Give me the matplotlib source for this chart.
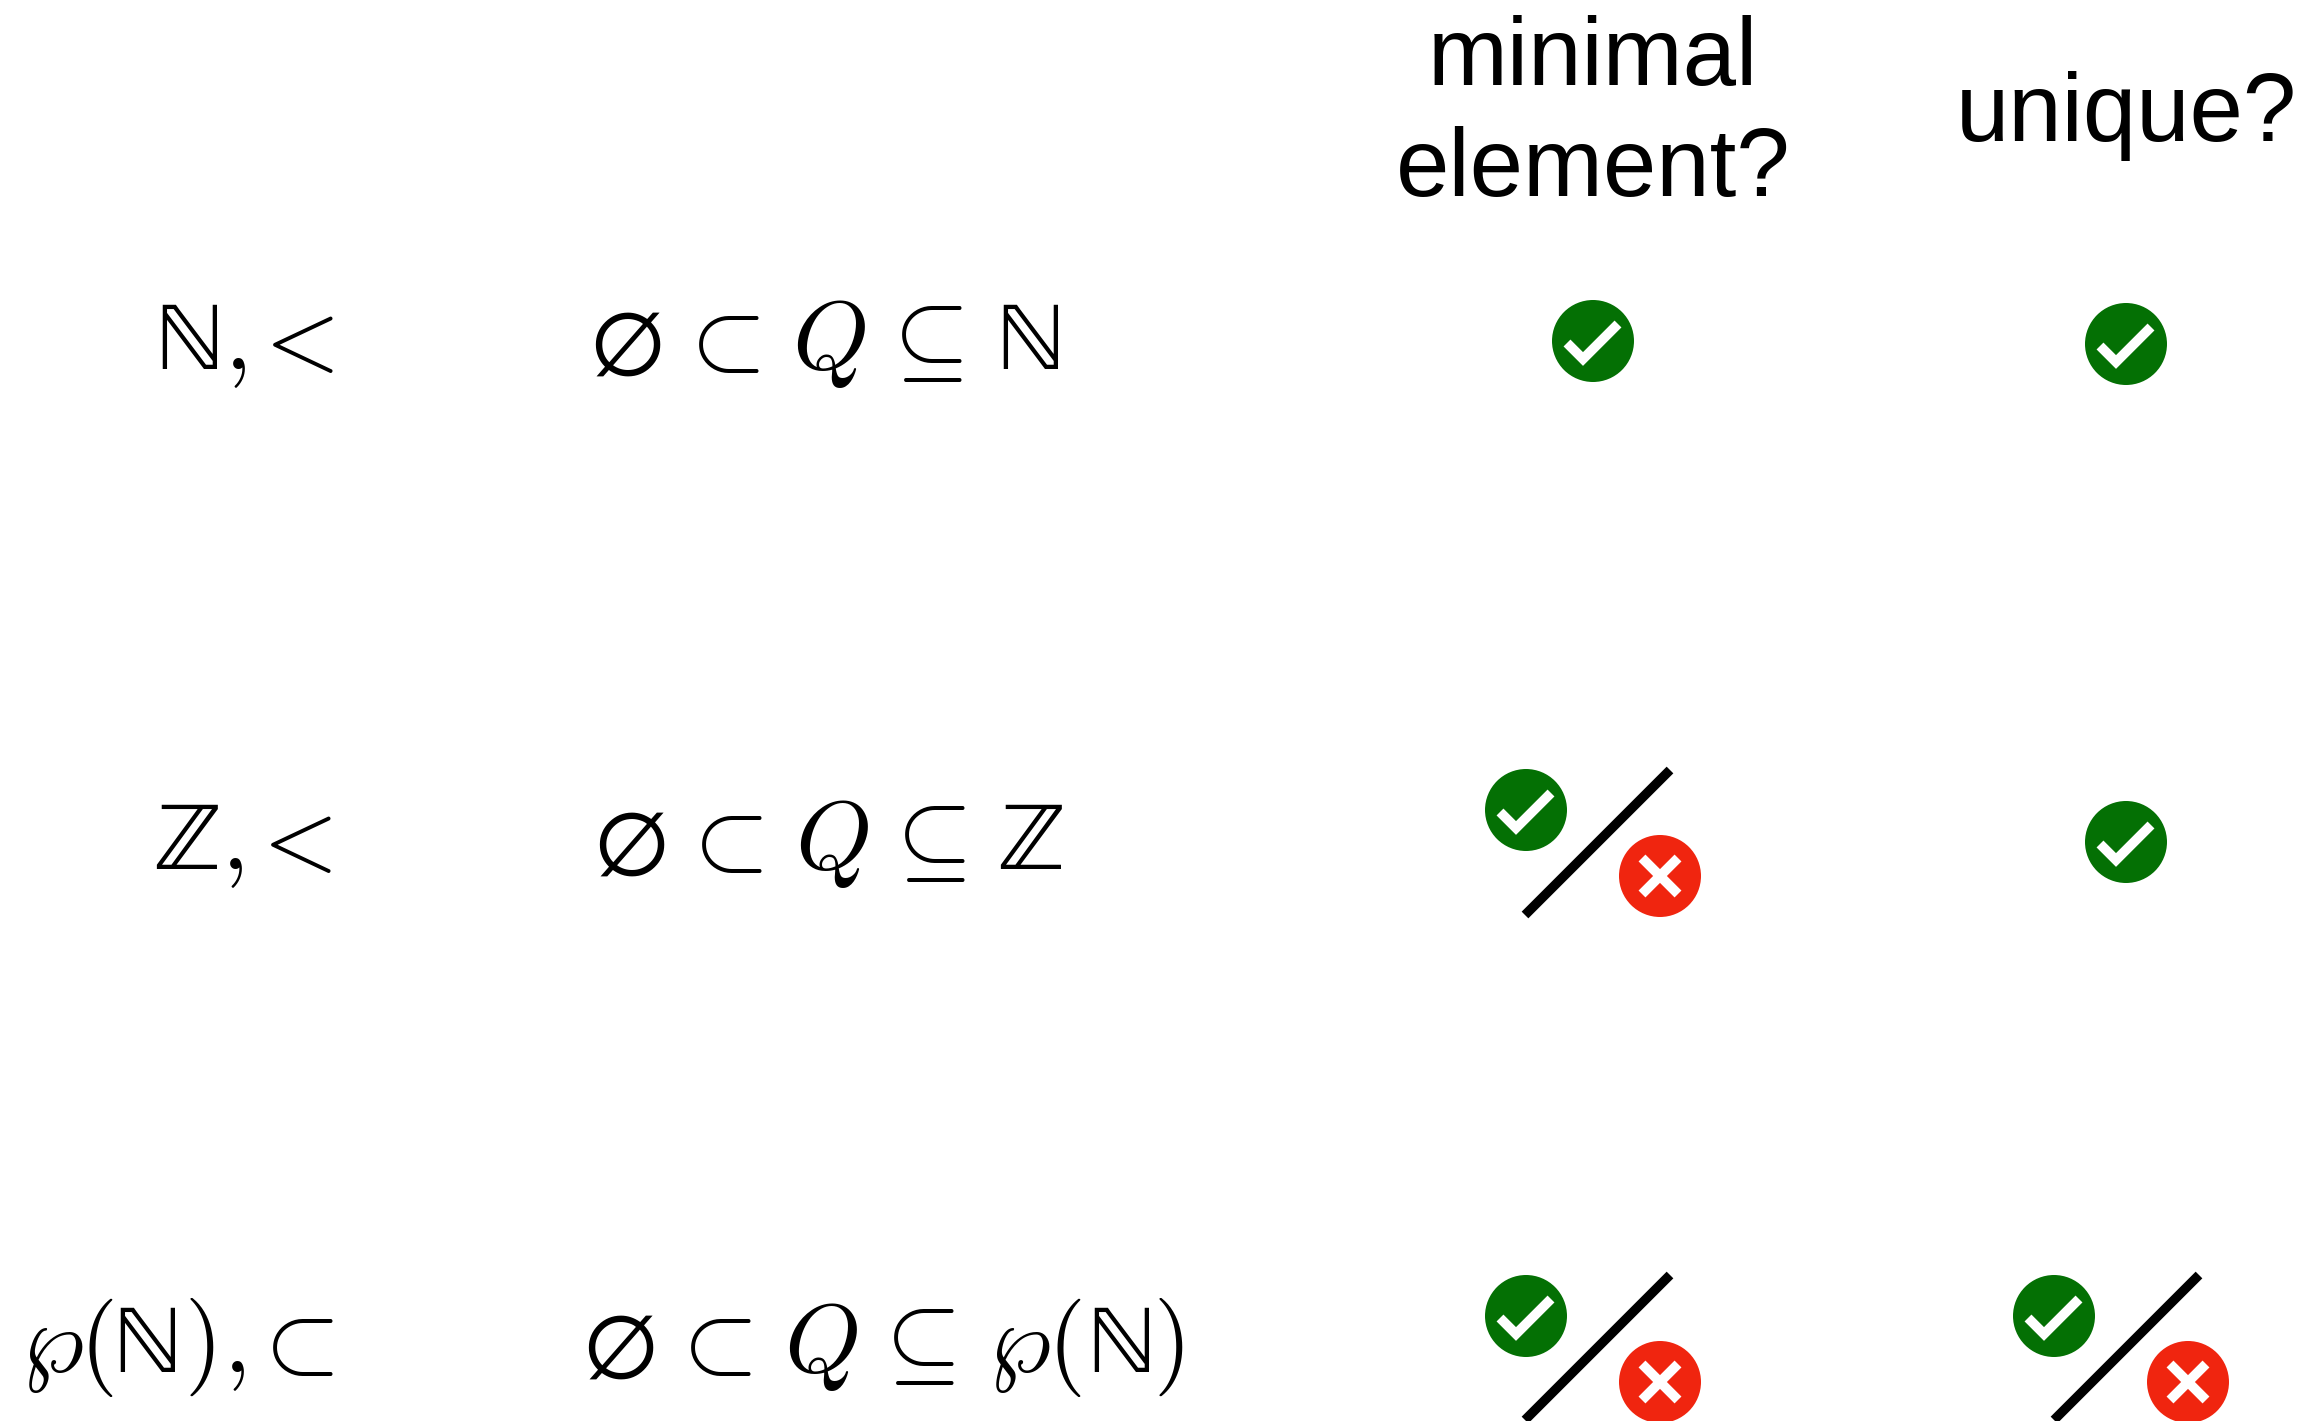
import matplotlib
matplotlib.use("Agg")
import matplotlib.pyplot as plt
from matplotlib.patches import Circle

W, H = 2317, 1421
plt.rcParams['mathtext.fontset'] = 'cm'

headers = [("minimal", 1593, 60), ("element?", 1593, 171), ("unique?", 2126, 116)]
NN, ZZ, EMP = "\u2115", "\u2124", "\u2205"
SUB, SUBEQ, WP, LT = r"$\subset$", r"$\subseteq$", r"$\wp$", r"$<$"
Q, COMMA, LP, RP = r"$Q$", r"$,$", r"$($", r"$)$"
row1_base, row2_base, row3_base = 369, 869, 1372
row1 = [(NN, 189), (COMMA, 235), (LT, 290), (EMP, 627), (SUB, 716), (Q, 829), (SUBEQ, 919), (NN, 1030)]
row2 = [(ZZ, 187), (COMMA, 232), (LT, 288), (EMP, 631), (SUB, 719), (Q, 832), (SUBEQ, 922), (ZZ, 1030)]
row3 = [(WP, 52), (LP, 96), (NN, 147), (RP, 199), (COMMA, 234), (SUB, 290),
        (EMP, 620), (SUB, 708), (Q, 821), (SUBEQ, 911), (WP, 1019), (LP, 1064), (NN, 1121), (RP, 1168)]
rows = [(row1, row1_base), (row2, row2_base), (row3, row3_base)]
checks = [(1593, 341), (2126, 344), (1526, 810), (2126, 842), (1526, 1316), (2054, 1316)]
crosses = [(1660, 876), (1660, 1382), (2188, 1382)]
slashes = [(1525, 915, 1670, 770), (1525, 1420, 1670, 1275), (2054, 1420, 2199, 1275)]

fig = plt.figure(figsize=(W/100, H/100), dpi=100)
ax = fig.add_axes([0, 0, 1, 1])
ax.set_xlim(0, W); ax.set_ylim(H, 0); ax.axis('off')

for t, x, y in headers:
    ax.text(x, y, t, fontsize=69, family='Liberation Sans', ha='center', va='center')
for row, base in rows:
    for t, x in row:
        fam = 'STIXGeneral' if t in (NN, ZZ, EMP) else None
        ax.text(x, base, t, fontsize=70, family=fam, ha='center', va='baseline')

GREEN = '#047004'; RED = '#f0250f'; R = 41
for x, y in checks:
    ax.add_patch(Circle((x, y), R, color=GREEN, lw=0))
    ax.plot([x-26, x-10, x+25], [y+2, y+18, y-17], color='white', lw=7, solid_capstyle='butt', solid_joinstyle='miter')
for x, y in crosses:
    ax.add_patch(Circle((x, y), R, color=RED, lw=0))
    ax.plot([x-18, x+18], [y-18, y+18], color='white', lw=7, solid_capstyle='butt')
    ax.plot([x-18, x+18], [y+18, y-18], color='white', lw=7, solid_capstyle='butt')
for x0, y0, x1, y1 in slashes:
    ax.plot([x0, x1], [y0, y1], color='black', lw=6.8, solid_capstyle='butt', clip_on=True)

fig.savefig("out.png", dpi=100)
